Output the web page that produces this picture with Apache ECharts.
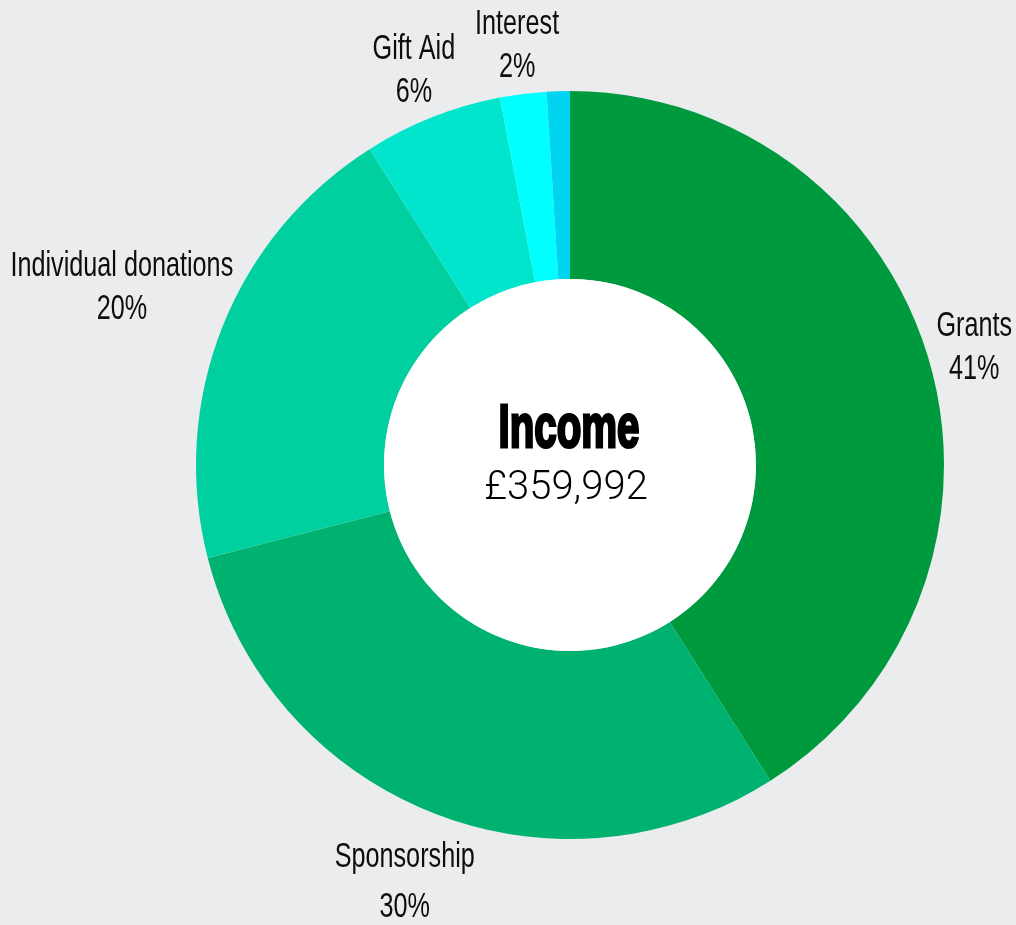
<!DOCTYPE html>
<html>
<head>
<meta charset="utf-8">
<title>Income</title>
<script src="https://cdn.jsdelivr.net/npm/echarts@6/dist/echarts.min.js"></script>
<style>
  html, body { margin: 0; padding: 0; background: #ebecee; }
  #chart { width: 1016px; height: 925px; }
</style>
</head>
<body>
<div id="chart"></div>
<script>
// Income sources, as shares of the total (%)
const categories = ['Grants', 'Sponsorship', 'Individual donations', 'Gift Aid', 'Interest', 'Other'];
const shares = [41, 30, 20, 6, 2, 1];
const totalIncome = '£359,992';
const centreTitle = 'Income';
// the smallest slice carries no label
const unlabelled = ['Other'];

// Slice colours, in the same order as the categories
const sliceColors = ['#009a3e', '#00b26f', '#00cf9f', '#00e5cc', '#00ffff', '#00d4f0'];

// Layout
const CX = 570, CY = 465;
const R_IN = 186, R_OUT = 374;
// distance of each label's centre from the middle of the ring
const labelRadius = [421, 449, 482, 424, 422, 420];
const labelLineHeight = [43, 50, 43, 43, 43, 43];
const LABEL_SQUEEZE = 0.72;   // horizontal condensing of the label face

// mid-angle of each slice, clockwise from 12 o'clock
const total = shares.reduce((a, b) => a + b, 0);
const midAngles = [];
let acc = 0;
shares.forEach(v => {
  midAngles.push(((acc + v / 2) / total) * 2 * Math.PI);
  acc += v;
});

const pieData = categories.map((name, i) => ({
  name: name,
  value: shares[i],
  itemStyle: { color: sliceColors[i] }
}));

// outside labels: name on the first line, share on the second
const sliceLabels = categories
  .map((name, i) => ({ name, i }))
  .filter(d => unlabelled.indexOf(d.name) < 0)
  .map(({ name, i }) => ({
    type: 'group',
    x: CX + labelRadius[i] * Math.sin(midAngles[i]),
    y: CY - labelRadius[i] * Math.cos(midAngles[i]),
    scaleX: LABEL_SQUEEZE,
    z: 100,
    children: [{
      type: 'text',
      z: 100,
      style: {
        text: name + '\n' + shares[i] + '%',
        x: 0, y: 0,
        align: 'center',
        verticalAlign: 'middle',
        fontFamily: '"Liberation Sans", Arial, sans-serif',
        fontSize: 35,
        lineHeight: labelLineHeight[i],
        fill: '#0d0d0d'
      }
    }]
  }));

const chart = echarts.init(document.getElementById('chart'), null, { renderer: 'canvas' });

chart.setOption({
  backgroundColor: '#ebecee',
  animation: false,
  series: [
    {
      type: 'pie',
      center: [CX, CY],
      radius: [R_IN, R_OUT],
      startAngle: 90,
      clockwise: true,
      silent: true,
      itemStyle: { borderWidth: 0 },
      label: { show: false },
      labelLine: { show: false },
      data: pieData
    },
    {
      // white disc filling the hole of the ring
      type: 'pie',
      center: [CX, CY],
      radius: [0, R_IN],
      silent: true,
      label: { show: false },
      labelLine: { show: false },
      itemStyle: { color: '#ffffff', borderWidth: 0 },
      data: [{ value: 1, name: '' }]
    }
  ],
  graphic: sliceLabels.concat([
    {
      type: 'group',
      x: CX - 1,
      y: 430,
      scaleX: 0.66,
      z: 100,
      children: [{
        type: 'text',
        z: 100,
        style: {
          text: centreTitle,
          x: 0, y: 0,
          align: 'center',
          verticalAlign: 'middle',
          fontFamily: '"Liberation Sans", Arial, sans-serif',
          fontWeight: 'bold',
          fontSize: 61,
          fill: '#000000',
          stroke: '#000000',
          lineWidth: 3
        }
      }]
    },
    {
      type: 'text',
      x: CX - 4,
      y: 489,
      z: 100,
      style: {
        text: totalIncome,
        align: 'center',
        verticalAlign: 'middle',
        fontFamily: 'Roboto, "Liberation Sans", sans-serif',
        fontWeight: 300,
        fontSize: 40,
        fill: '#000000'
      }
    }
  ])
});
</script>
</body>
</html>
